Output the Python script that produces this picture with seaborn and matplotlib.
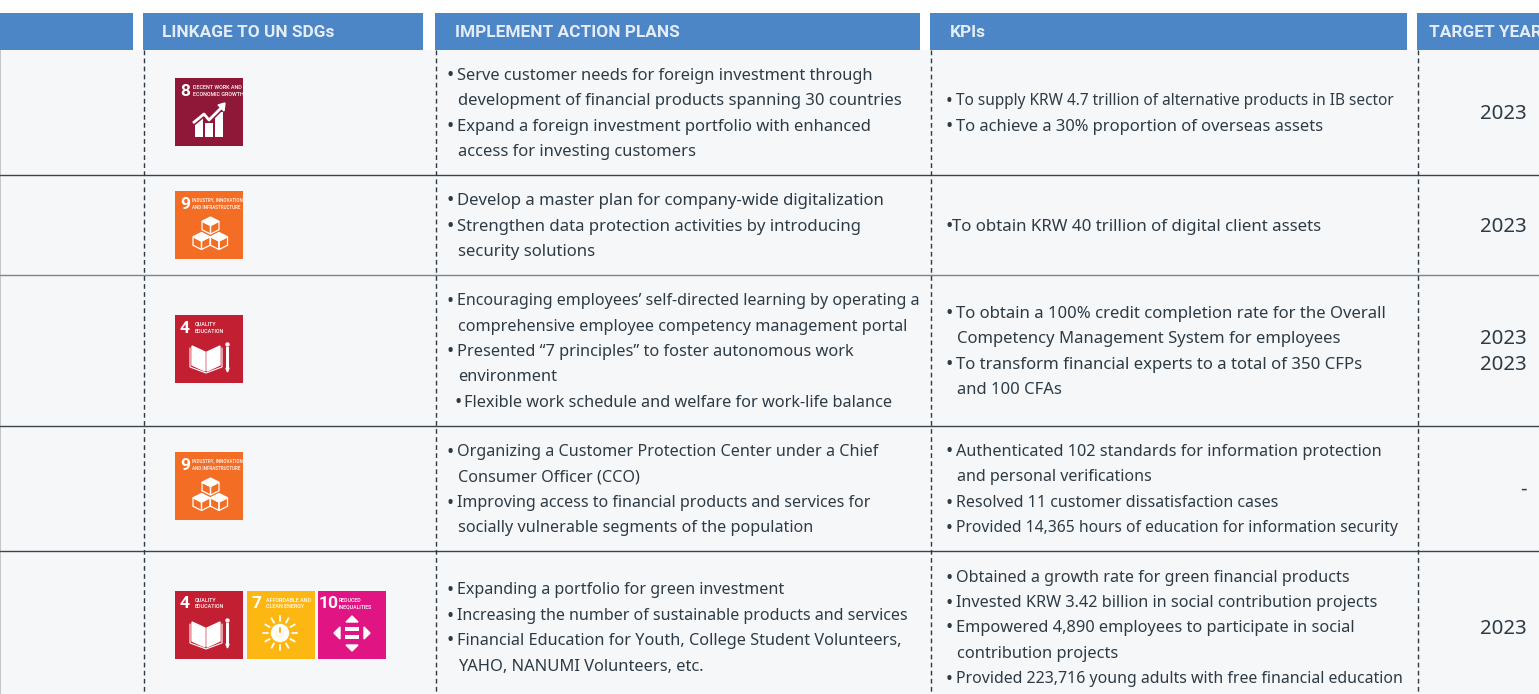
import matplotlib
matplotlib.use("Agg")
import matplotlib.pyplot as plt
from matplotlib.patches import Rectangle, Polygon, Circle, Wedge
import seaborn as sns
import numpy as np

sns.set_theme(style="white")
plt.rcParams['font.family'] = ['Noto Sans', 'DejaVu Sans']

# table content
headers = ["", "LINKAGE TO UN SDGs", "IMPLEMENT ACTION PLANS", "KPIs", "TARGET YEAR"]
row_sdgs = [[8], [9], [4], [9], [4, 7, 10]]
actions = [
    ["• Serve customer needs for foreign investment through",
     "development of financial products spanning 30 countries",
     "• Expand a foreign investment portfolio with enhanced",
     "access for investing customers"],
    ["• Develop a master plan for company-wide digitalization",
     "• Strengthen data protection activities by introducing",
     "security solutions"],
    ["• Encouraging employees’ self-directed learning by operating a",
     "comprehensive employee competency management portal",
     "• Presented “7 principles” to foster autonomous work",
     "environment",
     " • Flexible work schedule and welfare for work-life balance"],
    ["• Organizing a Customer Protection Center under a Chief",
     "Consumer Officer (CCO)",
     "• Improving access to financial products and services for",
     "socially vulnerable segments of the population"],
    ["• Expanding a portfolio for green investment",
     "• Increasing the number of sustainable products and services",
     "• Financial Education for Youth, College Student Volunteers,",
     "YAHO, NANUMI Volunteers, etc."],
]
kpis = [
    ["• To supply KRW 4.7 trillion of alternative products in IB sector",
     "• To achieve a 30% proportion of overseas assets"],
    ["•To obtain KRW 40 trillion of digital client assets"],
    ["• To obtain a 100% credit completion rate for the Overall",
     "Competency Management System for employees",
     "• To transform financial experts to a total of 350 CFPs",
     "and 100 CFAs"],
    ["• Authenticated 102 standards for information protection",
     "and personal verifications",
     "• Resolved 11 customer dissatisfaction cases",
     "• Provided 14,365 hours of education for information security"],
    ["• Obtained a growth rate for green financial products",
     "• Invested KRW 3.42 billion in social contribution projects",
     "• Empowered 4,890 employees to participate in social",
     "contribution projects",
     "• Provided 223,716 young adults with free financial education"],
]
targets = [["2023"], ["2023"], ["2023", "2023"], ["-"], ["2023"]]
sdg_titles = {8: "DECENT WORK AND\nECONOMIC GROWTH",
              9: "INDUSTRY, INNOVATION\nAND INFRASTRUCTURE",
              4: "QUALITY\nEDUCATION",
              7: "AFFORDABLE AND\nCLEAN ENERGY",
              10: "REDUCED\nINEQUALITIES"}
sdg_colors = {8: "#8f1838", 9: "#f36d25", 4: "#c31f33", 7: "#fdb713", 10: "#e11484"}

# layout in pixels
W, H = 1539, 694
col_edges = [(-2, 133), (143, 423), (435, 920), (930, 1407), (1417, 1541)]
head_x = [0, 162, 455, 950, 1429]
dash_x = [143.5, 436, 931, 1418]
row_edges = [50, 175, 275, 426, 551, 703]
rule_colors = ["#3a444d", "#7f8488", "#3a444d", "#3a444d"]
line_gap = 25.4
icon_top = [78, 191, 315, 452, 591]
icon_x = {0: 175, 1: 247, 2: 318}
title_x = {8: 18, 9: 17, 4: 20, 7: 19, 10: 21}
title_size = {8: 3.9, 9: 3.25, 4: 3.9, 7: 3.9, 10: 3.8}
ink = "#2e3b45"
white = "white"

# font sizes fitted line by line, the source text is set a bit tighter in places
action_sizes = [[11.82, 11.96, 11.95, 11.92], [12.05, 12.02, 12.02],
                [11.57, 11.67, 11.77, 11.77, 11.71], [11.64, 11.67, 11.57, 11.67],
                [11.59, 11.55, 11.71, 11.87]]
kpi_sizes = [[11.1, 11.92], [12.17], [12.05, 12.0, 12.07, 11.97],
             [11.73, 11.57, 11.51, 11.25], [11.62, 11.67, 11.79, 11.81, 11.45]]

fig = plt.figure(figsize=(W / 100, H / 100), dpi=100, facecolor="white")
ax = fig.add_axes([0, 0, 1, 1])
ax.set_xlim(0, W)
ax.set_ylim(H, 0)
ax.axis("off")
sns.despine(ax=ax, left=True, bottom=True)


def rect(x, y, w, h, color, z=1):
    ax.add_patch(Rectangle((x, y), w, h, facecolor=color, edgecolor="none", zorder=z))


def draw_growth(x, y):
    for bx, top in [(20, 40), (30, 45), (40, 34)]:
        rect(x + bx, y + top, 8, 59 - top, white, 4)
    ax.plot([x + 18, x + 29, x + 34, x + 47], [y + 45, y + 36, y + 42, y + 29],
            color=sdg_colors[8], lw=4.2, zorder=5, solid_capstyle="butt")
    ax.plot([x + 18, x + 29, x + 34, x + 47], [y + 45, y + 36, y + 42, y + 29],
            color=white, lw=2, zorder=6, solid_capstyle="butt")
    ax.add_patch(Polygon([(x + 50, y + 25), (x + 49, y + 33), (x + 43, y + 27)],
                         facecolor=white, zorder=6))


def draw_cube(cx, cy, r, fill):
    top = [(cx, cy - r), (cx + r, cy - r / 2), (cx, cy), (cx - r, cy - r / 2)]
    left = [(cx - r, cy - r / 2), (cx, cy), (cx, cy + r), (cx - r, cy + r / 2)]
    right = [(cx + r, cy - r / 2), (cx, cy), (cx, cy + r), (cx + r, cy + r / 2)]
    ax.add_patch(Polygon(top, facecolor=white if fill else "none", edgecolor=white, lw=0.9, zorder=5))
    ax.add_patch(Polygon(left, facecolor="none", edgecolor=white, lw=0.9, zorder=5))
    ax.add_patch(Polygon(right, facecolor="none", edgecolor=white, lw=0.9, zorder=5))


def draw_cubes(x, y):
    draw_cube(x + 35.5, y + 34.5, 8.5, True)
    draw_cube(x + 26.5, y + 50, 8.5, True)
    draw_cube(x + 44, y + 50, 8.5, True)


def draw_book(x, y):
    ax.add_patch(Polygon([(x + 17, y + 31), (x + 30, y + 37), (x + 30, y + 56), (x + 17, y + 50)],
                         facecolor=white, zorder=5))
    ax.add_patch(Polygon([(x + 32, y + 37), (x + 45, y + 31), (x + 45, y + 50), (x + 32, y + 56)],
                         facecolor=white, zorder=5))
    ax.plot([x + 15, x + 15, x + 31, x + 47, x + 47],
            [y + 33, y + 52, y + 58, y + 52, y + 33], color=white, lw=0.8, zorder=5)
    rect(x + 51, y + 32, 3, 21, white, 5)
    ax.add_patch(Circle((x + 52.5, y + 29.5), 1.5, facecolor=white, zorder=5))
    ax.add_patch(Polygon([(x + 51, y + 53), (x + 54, y + 53), (x + 52.5, y + 57)],
                         facecolor=white, zorder=5))


def draw_sun(x, y):
    cx, cy = x + 33, y + 42
    for a in np.arange(0, 360, 30):
        if a == 270:
            continue
        ca, sa = np.cos(np.radians(a)), np.sin(np.radians(a))
        ax.plot([cx + 12 * ca, cx + 17 * ca], [cy + 12 * sa, cy + 17 * sa], color=white, lw=1.3, zorder=5)
    ax.plot([cx, cx], [cy - 17, cy - 12], color=white, lw=1.3, zorder=5)
    ax.add_patch(Circle((cx, cy), 8.5, facecolor=white, zorder=5))
    ax.add_patch(Wedge((cx, cy), 4.5, -60, 240, width=1.6, facecolor=sdg_colors[7], zorder=6))
    ax.plot([cx, cx], [cy - 5.5, cy - 1], color=sdg_colors[7], lw=1.5, zorder=6)


def draw_arrows(x, y):
    for pts in [[(34, 25), (28, 31), (40, 31)], [(34, 60), (28, 54), (40, 54)],
                [(16, 42), (22, 36), (22, 48)], [(52, 42), (46, 36), (46, 48)]]:
        ax.add_patch(Polygon([(x + a, y + b) for a, b in pts], facecolor=white, zorder=5))
    rect(x + 27, y + 36, 14, 4, white, 5)
    rect(x + 27, y + 44, 14, 4, white, 5)


icon_art = {8: draw_growth, 9: draw_cubes, 4: draw_book, 7: draw_sun, 10: draw_arrows}


def draw_sdg(num, x, y):
    rect(x, y, 68, 68, sdg_colors[num], 3)
    ax.text(x + (11 if num == 10 else 10), y + 13, str(num), color=white, fontsize=12.5,
            fontweight="bold", family="Roboto", ha="center", va="center", zorder=6)
    ax.text(x + title_x[num], y + 12.5, sdg_titles[num], color=white, fontsize=title_size[num],
            fontweight="medium", family="Roboto", ha="left", va="center", linespacing=1.5, zorder=6)
    icon_art[num](x, y)


def draw_lines(lines, sizes, bullet_x, text_x, mid):
    y0 = mid - line_gap * (len(lines) - 1) / 2 + 1.5
    for i, line in enumerate(lines):
        y = y0 + i * line_gap
        kw = dict(color=ink, fontsize=sizes[i], va="center", ha="left", zorder=4)
        dot = dict(color=ink, fontsize=sizes[i] + 2, va="center", ha="left", zorder=4)
        if line.startswith("• "):
            ax.text(bullet_x, y, "•", **dot)
            ax.text(text_x, y, line[2:], **kw)
        elif line.startswith(" • "):
            ax.text(bullet_x + 9, y, "•", **dot)
            ax.text(text_x + 7, y, line[3:], **kw)
        elif line.startswith("•"):
            ax.text(bullet_x, y, "•", **dot)
            ax.text(text_x - 4, y, line[1:], **kw)
        else:
            ax.text(text_x + 1, y, line, **kw)


# header + background
rect(0, 50, W, H - 50, "#f5f7f9", 0)
rect(0, 50, 1, H - 50, "#c4c6c8", 1)
for (x0, x1), tx, label in zip(col_edges, head_x, headers):
    rect(x0, 13, x1 - x0, 37, "#4d86c6")
    ax.text(tx, 32, label, color="#e4edf7", fontsize=12.4, fontweight="bold",
            family="Roboto", va="center", ha="left", zorder=4)

# rules
for y, c in zip(row_edges[1:-1], rule_colors):
    ax.plot([0, W], [y, y], color=c, lw=1, zorder=2)
for x in dash_x:
    ax.plot([x, x], [50, H], color=ink, lw=1, ls=(0, (3.4, 2.4)), zorder=3)

# rows
for r in range(len(actions)):
    mid = (row_edges[r] + row_edges[r + 1]) / 2
    for k, num in enumerate(row_sdgs[r]):
        draw_sdg(num, icon_x[k], icon_top[r])
    draw_lines(actions[r], action_sizes[r], 446, 457, mid)
    draw_lines(kpis[r], kpi_sizes[r], 945.5, 956, mid)
    y0 = mid - line_gap * (len(targets[r]) - 1) / 2 + 1.5
    for i, t in enumerate(targets[r]):
        ax.text(1527, y0 + i * line_gap, t, color=ink, fontsize=14.7, va="center", ha="right", zorder=4)

fig.savefig("out.png", dpi=100, facecolor="white")
